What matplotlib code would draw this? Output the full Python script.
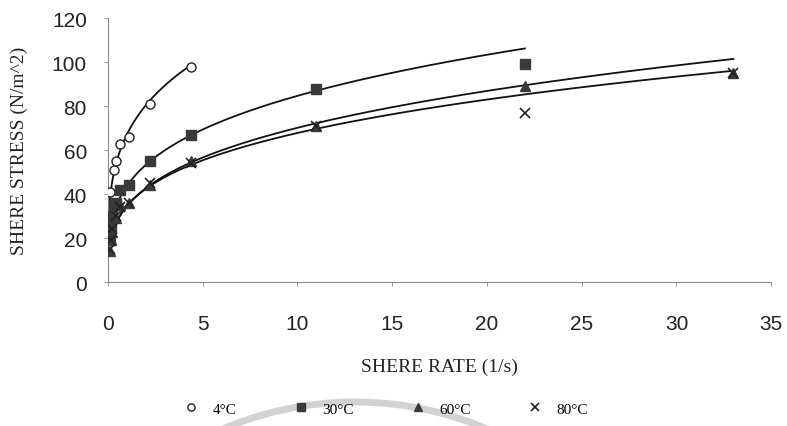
import numpy as np
import matplotlib
matplotlib.use('Agg')
import matplotlib.pyplot as plt
from matplotlib.lines import Line2D
from matplotlib.patches import Arc

# shear rate (1/s) and shear stress (N/m^2)
t4_x = [0.05, 0.13, 0.33, 0.44, 0.66, 1.1, 2.2, 4.4]
t4_y = [29, 41, 51, 55, 63, 66, 81, 98]

t30_x = [0.11, 0.15, 0.22, 0.33, 0.44, 0.66, 1.1, 2.2, 4.4, 11, 22]
t30_y = [19, 25, 30, 35, 36, 42, 44, 55, 67, 88, 99]

t60_x = [0.11, 0.15, 0.22, 0.44, 0.66, 1.1, 2.2, 4.4, 11, 22, 33]
t60_y = [14, 19, 23, 29, 35, 36, 44, 55, 71, 89, 95]

t80_x = [0.11, 0.15, 0.22, 0.44, 0.66, 1.1, 2.2, 4.4, 11, 22, 33]
t80_y = [15, 19, 24, 30, 34, 36, 45, 54, 71, 77, 95]

labels = ['4°C', '30°C', '60°C', '80°C']
x_ticks = [0, 5, 10, 15, 20, 25, 30, 35]
y_ticks = [0, 20, 40, 60, 80, 100, 120]


def power_fit(x, y):
    # excel style power trendline y = a * x^b
    b, ln_a = np.polyfit(np.log(x), np.log(y), 1)
    xs = np.linspace(min(x), max(x), 200)
    return xs, np.exp(ln_a) * xs ** b


def main():
    sans = 'Liberation Sans'
    serif = 'Liberation Serif'

    fig = plt.figure(figsize=(7.87, 4.27), dpi=100)
    ax = fig.add_axes([0.137, 0.337, 0.843, 0.618])

    series = [
        (t4_x, t4_y, dict(marker='o', mfc='white', mec='#222222', ms=6.5, mew=1.0)),
        (t30_x, t30_y, dict(marker='s', mfc='#3a3a3a', mec='#3a3a3a', ms=6.5)),
        (t60_x, t60_y, dict(marker='^', mfc='#3a3a3a', mec='#3a3a3a', ms=7.5)),
        (t80_x, t80_y, dict(marker='x', mfc='none', mec='#222222', ms=7, mew=1.2)),
    ]

    handles = []
    for (x, y, style), lab in zip(series, labels):
        xs, ys = power_fit(x, y)
        ax.plot(xs, ys, color='#111111', lw=1.3, zorder=2)
        ax.plot(x, y, ls='none', zorder=3, **style)
        leg_style = dict(style)
        leg_style['ms'] = style['ms'] * 0.8
        handles.append(Line2D([], [], ls='none', **leg_style))

    ax.set_xlim(0, 35)
    ax.set_ylim(0, 120)
    ax.set_xticks(x_ticks)
    ax.set_yticks(y_ticks)
    for s in ['top', 'right']:
        ax.spines[s].set_visible(False)
    for s in ['left', 'bottom']:
        ax.spines[s].set_color('#888888')
        ax.spines[s].set_linewidth(0.8)
    ax.tick_params(axis='both', length=3, width=0.6, color='#888888',
                   labelsize=15, labelcolor='#222222')
    ax.tick_params(axis='x', pad=20)
    ax.tick_params(axis='y', pad=12)
    for t in ax.get_xticklabels() + ax.get_yticklabels():
        t.set_fontfamily(sans)

    ax.set_xlabel('SHERE RATE (1/s)', fontfamily=serif, fontsize=14,
                  color='#222222', labelpad=18)
    ax.set_ylabel('SHERE STRESS (N/m^2)', fontfamily=serif, fontsize=14,
                  color='#222222', labelpad=17)

    # faint watermark arc from the scan (inches from the lower left corner)
    arc = Arc((3.55, -3.13), 6.74, 6.74, theta1=65, theta2=115,
              transform=fig.dpi_scale_trans, color='#d2d2d2', lw=5, zorder=0)
    fig.add_artist(arc)

    fig.legend(handles, labels, loc='center', bbox_to_anchor=(0.49, 0.04),
               ncol=4, frameon=False, handlelength=1.0, handletextpad=0.9,
               columnspacing=3.7, prop={'family': serif, 'size': 11})

    plt.savefig('out.png', dpi=100)


if __name__ == '__main__':
    main()
